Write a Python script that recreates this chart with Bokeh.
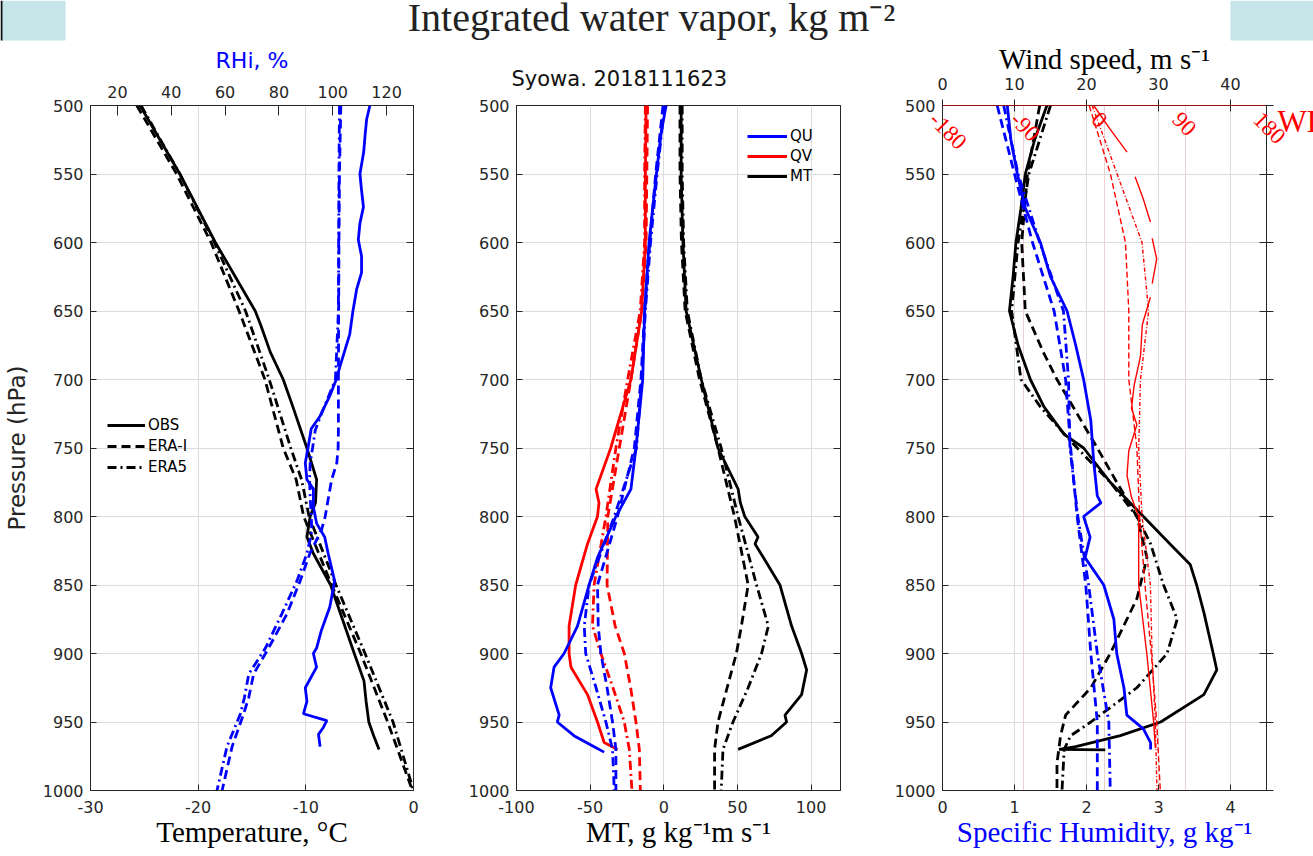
import math
from bokeh.plotting import figure
from bokeh.models import (Range1d, LinearAxis, FixedTicker, Legend, LegendItem, GridBox,
                          Span, Label, LabelSet, BoxAnnotation, ColumnDataSource)
from bokeh.embed import file_html
from bokeh.resources import INLINE
from bokeh.core.properties import value

NaN = float("nan")

# ---------------- data ----------------
pressure_ticks = [500, 550, 600, 650, 700, 750, 800, 850, 900, 950, 1000]

# Panel 1: temperature (deg C) and RHi (%)
temp_ticks = [-30, -20, -10, 0]
rhi_ticks = [20, 40, 60, 80, 100, 120]
p_temp_obs = [500, 550, 600, 650, 660, 680, 700, 720, 750, 773, 790, 800, 815, 827, 850, 875, 900, 920, 935, 950, 960, 970]
temp_obs = [-25.4, -21.7, -18.4, -14.7, -14.2, -13.3, -12.1, -11.2, -9.9, -9.0, -9.1, -9.6, -9.9, -9.3, -7.7, -6.6, -5.5, -4.6, -4.4, -4.15, -3.7, -3.2]
p_temp_era = [500, 550, 600, 650, 700, 750, 773, 800, 850, 900, 950, 1000]
temp_erai = [-25.7, -22.0, -18.8, -16.2, -13.8, -12.1, -10.9, -10.2, -7.6, -4.9, -2.4, -0.1]
temp_era5 = [-25.3, -21.7, -18.5, -15.6, -13.4, -11.4, -10.4, -9.7, -7.2, -4.5, -1.9, 0.0]

p_rhi_obs = [500, 510, 522, 534, 550, 562, 574, 586, 598, 610, 622, 634, 650, 667, 691, 700,
             712, 727, 736, 750, 761, 773, 780, 793, 805, 815, 827, 847, 866, 883, 896, 900, 910, 925,
             935, 944, 949, 954, 959, 968]
rhi_obs = [113.8, 112.6, 112.0, 111.5, 110.1, 110.7, 111.4, 110.1, 109.5, 110.7, 110.7, 108.9, 107.5, 106.3,
           102.6, 101.3, 98.9, 95.2, 92.0, 90.8, 89.8, 90.4, 92.8, 92.8, 94.0, 97.0, 98.3,
           100.7, 98.9, 95.8, 94.0, 92.8, 94.0, 89.8, 90.4, 89.1, 97.8, 96.5, 94.7, 95.3]
p_rhi_era = [500, 550, 600, 650, 700, 712, 724, 737, 750, 761, 773, 785, 800, 810, 815, 827, 847, 871, 896,
             915, 932, 944, 968, 1000]
rhi_erai = [103.0, 102.5, 102.3, 102.2, 102.1, 102.1, 102.1, 102.1, 102.0, 101.5, 99.6, 98.5, 97.2, 95.8, 94.5,
            91.5, 87.9, 83.0, 76.2, 70.6, 68.8, 66.9, 62.6, 58.9]
rhi_era5 = [102.5, 102.3, 102.2, 102.1, 101.0, 98.5, 96.0, 93.5, 92.5, 91.6, 91.4, 91.6, 92.0, 92.2, 91.8,
            90.4, 86.7, 81.1, 75.0, 68.8, 67.2, 65.7, 60.7, 57.0]

# Panel 2: moisture transport (g kg-1 m s-1)
mt_ticks = [-100, -50, 0, 50, 100]
p_qu_obs = [500, 520, 550, 600, 650, 700, 750, 780, 800, 830, 850, 880, 900, 910, 925, 945, 950, 960, 968, 972]
qu_obs = [1.6, -1.8, -5.0, -10.0, -13.0, -14.3, -18.9, -22.3, -32.5, -45.0, -50.7, -58.6, -67.7, -74.5, -76.8,
          -71.0, -72.3, -61.0, -47.3, -40.5]
p_qv_obs = [500, 550, 600, 650, 700, 750, 780, 790, 800, 820, 850, 880, 900, 910, 930, 950, 965, 970]
qv_obs = [-12.0, -12.5, -12.5, -15.0, -22.3, -36.0, -46.0, -44.0, -45.0, -51.8, -59.8, -64.3, -64.3, -63.0,
          -51.8, -45.0, -40.5, -31.4]
p_mt_obs = [500, 550, 600, 650, 700, 750, 780, 790, 800, 815, 820, 850, 880, 900, 912, 930, 945, 950, 960, 970]
mt_obs = [11.8, 11.8, 13.0, 15.2, 25.5, 36.8, 50.5, 52.0, 55.0, 64.0, 62.0, 78.9, 86.8, 93.6, 97.0, 93.6, 82.3,
          83.4, 73.0, 50.5]
p_mt_era = [500, 550, 600, 650, 700, 750, 800, 850, 880, 900, 925, 950, 970, 1000]
qu_erai = [-0.5, -5.5, -9.5, -13.0, -15.5, -20.0, -31.4, -45.0, -44.5, -42.7, -38.5, -34.8, -32.5, -32.5]
qu_era5 = [0.5, -4.5, -9.0, -12.5, -15.0, -18.5, -33.6, -50.7, -54.0, -53.0, -46.0, -39.3, -34.8, -33.6]
qv_erai = [-11.0, -11.5, -12.0, -15.0, -22.3, -30.2, -38.0, -38.5, -33.0, -26.8, -22.5, -18.9, -16.6, -15.9]
qv_era5 = [-12.5, -13.0, -13.0, -16.0, -24.5, -32.5, -39.3, -47.3, -48.4, -42.7, -34.5, -26.8, -23.4, -21.6]
mt_erai = [11.0, 11.0, 12.0, 14.5, 24.3, 36.8, 48.0, 57.3, 52.7, 49.3, 43.0, 36.8, 34.5, 34.5]
mt_era5 = [12.5, 12.5, 13.5, 16.0, 25.5, 39.0, 50.5, 63.0, 71.0, 66.4, 57.3, 47.0, 40.2, 39.0]

# Panel 3: specific humidity (g/kg), wind speed (m/s), wind direction (deg)
q_ticks = [0, 1, 2, 3, 4]
ws_ticks = [0, 10, 20, 30, 40]
wd_ticks = [-180, -90, 0, 90, 180]
wd_labels = ["-180", "-90", "0", "90", "180"]
p_ws_obs = [500, 525, 550, 575, 600, 625, 650, 675, 700, 720, 740, 750, 775, 800, 820, 835, 850, 870, 900, 912,
            930, 950, 960, 968, 970, 970.3]
ws_obs = [14.5, 12.8, 11.5, 10.9, 10.2, 9.8, 9.3, 10.5, 12.2, 14.1, 16.9, 19.6, 23.3, 27.9, 31.6, 34.4, 35.3,
          36.3, 37.6, 38.1, 36.3, 30.3, 24.7, 18.5, 16.2, 22.6]
p_ws_erai = [500, 550, 600, 650, 680, 700, 750, 775, 800, 830, 860, 900, 925, 945, 960, 980, 1000]
ws_erai = [13.5, 11.8, 11.0, 11.5, 14.0, 15.9, 21.5, 24.2, 27.0, 28.4, 27.0, 23.3, 20.6, 17.1, 16.4, 15.9, 15.9]
p_ws_era5 = [500, 550, 600, 650, 700, 720, 745, 775, 800, 820, 850, 875, 900, 925, 950, 960, 970, 1000]
ws_era5 = [15.0, 12.0, 10.5, 9.6, 10.9, 13.6, 17.8, 23.3, 27.0, 28.9, 30.7, 32.6, 31.2, 27.0, 20.6, 17.8, 16.9, 16.6]

p_q_obs = [500, 525, 550, 575, 600, 625, 650, 675, 700, 730, 760, 785, 790, 800, 815, 830, 850, 875, 900, 925,
           945, 955, 965, 970]
q_obs = [0.9, 0.95, 1.04, 1.15, 1.36, 1.5, 1.73, 1.85, 1.96, 2.06, 2.1, 2.15, 2.2, 1.96, 2.05, 1.98, 2.24, 2.38,
         2.42, 2.52, 2.56, 2.79, 2.89, 2.89]
p_q_era = [500, 550, 600, 650, 700, 750, 800, 850, 900, 950, 1000]
q_erai = [0.76, 1.0, 1.25, 1.55, 1.71, 1.78, 1.87, 1.99, 2.06, 2.15, 2.15]
q_era5 = [0.85, 1.05, 1.35, 1.68, 1.75, 1.77, 1.88, 2.03, 2.15, 2.31, 2.33]

p_wd_obs = [500, 517, 534, NaN, 552, 568, 585, NaN, 597, 612, 630, NaN, 640, 660, 683, 704, 721, 733, 752, 770,
            786, 800, 850, 900, 950, 969]
wd_obs = [-12, 6, 25, NaN, 34, 43, 51, NaN, 53, 58, 53, NaN, 51, 42, 40, 33, 30, 36, 27, 25, 30, 38, 38, 47,
          54.6, 56.5]
p_wd_era = [500, 550, 600, 650, 700, 750, 800, 850, 900, 950, 1000]
wd_erai = [-17, 6.6, 23.3, 27, 27, 36, 39, 45, 52, 58, 62]
wd_era5 = [-13.7, 14, 41.7, 49, 40, 38, 41.7, 51, 52.8, 56.5, 58.3]

# ---------------- geometry & styling ----------------
PAGE_W, PAGE_H = 1313, 856
TOP, FRAME_H, BOTTOM = 105, 685, 66
P1_L, P1_W, P1_R = 87, 323, 52
P2_L, P2_W, P2_R = 50, 324, 51
P3_L, P3_W, P3_R = 51, 324, 51
P3_FRAME_LEFT = P1_L + P1_W + P1_R + P2_L + P2_W + P2_R + P3_L

AX = "#262626"
GRID = "#dcdcdc"
BLUE = "#0000ff"
RED = "#ff0000"
BLACK = "#000000"
DASH = "9 5"
DASHDOT = "9 4 2 4"
LW = 2.8
SERIF = "Liberation Serif"
SANS = "DejaVu Sans"


def style_axis(ax, tin=6, tout=0, standoff=7, size="16px", ticks=None):
    ax.major_label_text_font = SANS
    ax.major_label_text_font_size = size
    ax.major_label_text_color = AX
    ax.axis_line_color = AX
    ax.major_tick_line_color = AX
    ax.minor_tick_line_color = None
    ax.major_tick_in = tin
    ax.major_tick_out = tout
    ax.major_label_standoff = standoff
    if ticks is not None:
        ax.ticker = FixedTicker(ticks=ticks)
        ax.major_label_overrides = {t: str(t) for t in ticks}


def base_fig(xr, frame_w, left, right):
    p = figure(frame_width=frame_w, frame_height=FRAME_H,
               x_range=Range1d(*xr), y_range=Range1d(1000, 500),
               min_border_left=left, min_border_right=right,
               min_border_top=TOP, min_border_bottom=BOTTOM,
               output_backend="svg", toolbar_location=None)
    p.outline_line_color = AX
    p.outline_line_width = 1
    p.background_fill_color = "white"
    p.border_fill_color = "white"
    style_axis(p.yaxis[0], tin=6, tout=0, standoff=7, ticks=pressure_ticks)
    p.ygrid[0].ticker = FixedTicker(ticks=pressure_ticks)
    p.ygrid[0].grid_line_color = GRID
    p.xgrid[0].grid_line_color = GRID
    return p


def right_ticks(p, tin=7, tout=0):
    ra = LinearAxis()
    style_axis(ra, tin=tin, tout=tout, standoff=0, size="1px", ticks=pressure_ticks)
    ra.major_label_text_alpha = 0
    p.add_layout(ra, "right")


def bottom_label(ax, text, color=BLACK):
    ax.axis_label = text
    ax.axis_label_text_font = SERIF
    ax.axis_label_text_font_style = "normal"
    ax.axis_label_text_font_size = "29px"
    ax.axis_label_text_color = color
    ax.axis_label_standoff = 0


def style_legend(lg):
    lg.label_text_font = SANS
    lg.label_text_font_size = "15px"
    lg.label_text_color = BLACK
    lg.glyph_width = 38
    lg.glyph_height = 20
    lg.label_height = 20
    lg.spacing = 0
    lg.padding = 5
    lg.margin = 0
    lg.label_standoff = 3
    lg.border_line_alpha = 0
    lg.background_fill_alpha = 0


# ---------------- panel 1 ----------------
p1 = base_fig((-30, 0), P1_W, P1_L, P1_R)
p1.extra_x_ranges = {"rhi": Range1d(10, 130)}
xa = p1.xaxis[0]
style_axis(xa, tin=6, tout=0, standoff=10, ticks=temp_ticks)
bottom_label(xa, "Temperature, \u00b0C")
p1.xgrid[0].ticker = FixedTicker(ticks=temp_ticks)
ya = p1.yaxis[0]
ya.axis_label = "Pressure (hPa)"
ya.axis_label_text_font = SANS
ya.axis_label_text_font_style = "normal"
ya.axis_label_text_font_size = "23px"
ya.axis_label_text_color = AX
ya.axis_label_standoff = 10
top1 = LinearAxis(x_range_name="rhi")
style_axis(top1, tin=10, tout=0, standoff=8, ticks=rhi_ticks)
top1.axis_label = "RHi, %"
top1.axis_label_text_font = SANS
top1.axis_label_text_font_style = "normal"
top1.axis_label_text_font_size = "22px"
top1.axis_label_text_color = BLUE
top1.axis_label_standoff = 10
p1.add_layout(top1, "above")
right_ticks(p1)

r_obs = p1.line(temp_obs, p_temp_obs, line_color=BLACK, line_width=LW)
r_erai = p1.line(temp_erai, p_temp_era, line_color=BLACK, line_width=LW, line_dash=DASH)
r_era5 = p1.line(temp_era5, p_temp_era, line_color=BLACK, line_width=LW, line_dash=DASHDOT)
p1.line(rhi_obs, p_rhi_obs, x_range_name="rhi", line_color=BLUE, line_width=LW)
p1.line(rhi_erai, p_rhi_era, x_range_name="rhi", line_color=BLUE, line_width=LW, line_dash=DASH)
p1.line(rhi_era5, p_rhi_era, x_range_name="rhi", line_color=BLUE, line_width=LW, line_dash=DASHDOT)

leg1 = Legend(items=[LegendItem(label="OBS", renderers=[r_obs]),
                     LegendItem(label="ERA-I", renderers=[r_erai]),
                     LegendItem(label="ERA5", renderers=[r_era5])],
              location=(12, 308))
style_legend(leg1)
leg1.spacing = 1
p1.add_layout(leg1)

# ---------------- panel 2 ----------------
p2 = base_fig((-100, 120), P2_W, P2_L, P2_R)
xa2 = p2.xaxis[0]
style_axis(xa2, tin=6, tout=0, standoff=10, ticks=mt_ticks)
bottom_label(xa2, "MT, g kg\u207b\u00b9m s\u207b\u00b9")
p2.xgrid[0].ticker = FixedTicker(ticks=mt_ticks)
right_ticks(p2)
p2.title.text = "Syowa. 2018111623"
p2.title.text_font = SANS
p2.title.text_font_size = "21px"
p2.title.text_font_style = "normal"
p2.title.text_color = "#111111"
p2.title.standoff = 29
p2.title.offset = -5

rq = p2.line(qv_obs, p_qv_obs, line_color=RED, line_width=LW)
p2.line(qv_erai, p_mt_era, line_color=RED, line_width=LW, line_dash=DASH)
p2.line(qv_era5, p_mt_era, line_color=RED, line_width=LW, line_dash=DASHDOT)
ru = p2.line(qu_obs, p_qu_obs, line_color=BLUE, line_width=LW)
p2.line(qu_erai, p_mt_era, line_color=BLUE, line_width=LW, line_dash=DASH)
p2.line(qu_era5, p_mt_era, line_color=BLUE, line_width=LW, line_dash=DASHDOT)
rm = p2.line(mt_obs, p_mt_obs, line_color=BLACK, line_width=LW)
p2.line(mt_erai, p_mt_era, line_color=BLACK, line_width=LW, line_dash=DASH)
p2.line(mt_era5, p_mt_era, line_color=BLACK, line_width=LW, line_dash=DASHDOT)

leg2 = Legend(items=[LegendItem(label="QU", renderers=[ru]),
                     LegendItem(label="QV", renderers=[rq]),
                     LegendItem(label="MT", renderers=[rm])],
              location=(226, 599))
style_legend(leg2)
leg2.glyph_width = 40
p2.add_layout(leg2)

# ---------------- panel 3 ----------------
p3 = base_fig((0, 4.5), P3_W, P3_L, P3_R)
p3.extra_x_ranges = {"wind": Range1d(0, 45), "wd": Range1d(-180, 180)}
xa3 = p3.xaxis[0]
style_axis(xa3, tin=6, tout=0, standoff=10, ticks=q_ticks)
bottom_label(xa3, "Specific Humidity, g kg\u207b\u00b9", color=BLUE)
p3.xgrid[0].ticker = FixedTicker(ticks=q_ticks)
top3 = LinearAxis(x_range_name="wind")
style_axis(top3, tin=6, tout=6, standoff=10, ticks=ws_ticks)
top3.axis_label = "Wind speed, m s\u207b\u00b9"
top3.axis_label_text_font = SERIF
top3.axis_label_text_font_style = "normal"
top3.axis_label_text_font_size = "29px"
top3.axis_label_text_color = BLACK
top3.axis_label_standoff = 0
p3.add_layout(top3, "above")
right_ticks(p3, tin=7, tout=7)

# wind-direction grid lines
p3.segment(x0=wd_ticks[1:4], y0=500, x1=wd_ticks[1:4], y1=1000, x_range_name="wd",
           line_color="#ecd2d2", line_width=1, level="underlay")

p3.line(ws_obs, p_ws_obs, x_range_name="wind", line_color=BLACK, line_width=LW)
p3.line(ws_erai, p_ws_erai, x_range_name="wind", line_color=BLACK, line_width=LW, line_dash=DASH)
p3.line(ws_era5, p_ws_era5, x_range_name="wind", line_color=BLACK, line_width=LW, line_dash=DASHDOT)
p3.line(q_obs, p_q_obs, line_color=BLUE, line_width=LW)
p3.line(q_erai, p_q_era, line_color=BLUE, line_width=LW, line_dash=DASH)
p3.line(q_era5, p_q_era, line_color=BLUE, line_width=LW, line_dash=DASHDOT)
p3.line(wd_obs, p_wd_obs, x_range_name="wd", line_color=RED, line_width=1.4)
p3.line(wd_erai, p_wd_era, x_range_name="wd", line_color=RED, line_width=1.4, line_dash="6 3")
p3.line(wd_era5, p_wd_era, x_range_name="wd", line_color=RED, line_width=1.4, line_dash="4 2 1 2")
p3.add_layout(Span(location=500, dimension="width", line_color=RED, line_width=1.2))

# ---------------- transparent overlay over the whole page (header + unclipped labels) ----------------
ov = figure(width=PAGE_W, height=PAGE_H, x_range=Range1d(0, PAGE_W), y_range=Range1d(PAGE_H, 0),
            x_axis_location=None, y_axis_location=None, min_border=0,
            toolbar_location=None, output_backend="svg")
ov.frame_align = False
ov.outline_line_color = None
ov.background_fill_alpha = 0
ov.border_fill_alpha = 0
ov.grid.visible = False
k = 360.0 / P3_W
ov.extra_x_ranges = {"wd": Range1d(-180 - P3_FRAME_LEFT * k, -180 + (PAGE_W - P3_FRAME_LEFT) * k)}

ov.add_layout(BoxAnnotation(left=0, right=65, top=0, bottom=40, fill_color="#c6e5e8",
                            fill_alpha=1, line_alpha=0))
ov.add_layout(BoxAnnotation(left=1230, right=PAGE_W, top=0, bottom=40, fill_color="#c6e5e8",
                            fill_alpha=1, line_alpha=0))
ov.add_layout(BoxAnnotation(left=0, right=2, top=0, bottom=40, fill_color="#111111",
                            fill_alpha=1, line_alpha=0))
ov.add_layout(Label(x=651, y=17, text="Integrated water vapor, kg m\u207b\u00b2", text_align="center",
                    text_baseline="alphabetic", text_font=SERIF, text_font_size="40px",
                    text_color="#222222"))
wd_src = ColumnDataSource(dict(x=wd_ticks, text=wd_labels))
ov.add_layout(LabelSet(x="x", y=110, text="text", source=wd_src, x_range_name="wd",
                       angle=-math.pi / 4, text_align="left", text_baseline="top",
                       text_color=RED, text_font=value(SERIF), text_font_size=value("23px")))
ov.add_layout(Label(x=180, y=121, x_range_name="wd", x_offset=15, text="WD",
                    text_align="left", text_baseline="middle", text_font=SERIF,
                    text_font_size="31px", text_color=RED))

layout = GridBox(children=[(p1, 0, 0), (p2, 0, 1), (p3, 0, 2), (ov, 0, 0, 1, 3)], spacing=0)
open("out.html", "w").write(file_html(layout, INLINE))
